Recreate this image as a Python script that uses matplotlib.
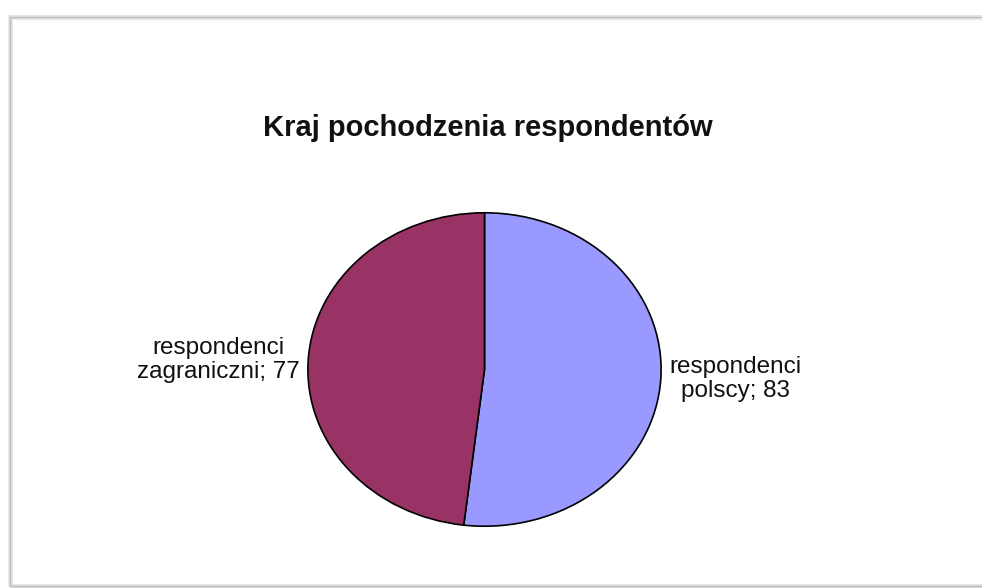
import matplotlib
matplotlib.use("Agg")
import matplotlib.pyplot as plt
from matplotlib.patches import Rectangle

plt.rcParams['font.family'] = ['Liberation Sans', 'DejaVu Sans']

labels = ['respondenci\npolscy; 83', 'respondenci\nzagraniczni; 77']
values = [83, 77]
colors = ['#9999FF', '#993366']

fig = plt.figure(figsize=(9.82, 5.88), dpi=100)

# chart frame with soft shadow
fig.patches.append(Rectangle((10 / 982, 1 - 586 / 588), 1.0, 569 / 588,
                             transform=fig.transFigure, fill=False,
                             edgecolor='#e4e4e4', linewidth=3.5))
fig.patches.append(Rectangle((10 / 982, 1 - 586 / 588), 1.0, 569 / 588,
                             transform=fig.transFigure, fill=False,
                             edgecolor='#bcbcbc', linewidth=1.0))

ax = fig.add_axes([307 / 982, 1 - 527 / 588, 355 / 982, 315 / 588])
wedges, texts = ax.pie(values, labels=labels, colors=colors, startangle=90,
                       counterclock=False, labeldistance=1.05,
                       wedgeprops=dict(edgecolor='black', linewidth=1.2),
                       textprops=dict(fontsize=17.5, multialignment='center',
                                      color='#111111', linespacing=1.1))
ax.set_aspect('auto')
ax.set_xlim(-1.005, 1.005)
ax.set_ylim(-1.005, 1.005)

fig.text(488 / 982, 1 - 128 / 588, 'Kraj pochodzenia respondentów',
         ha='center', va='center', fontsize=21, fontweight='bold', color='#111111')

fig.savefig('out.png', dpi=100)
